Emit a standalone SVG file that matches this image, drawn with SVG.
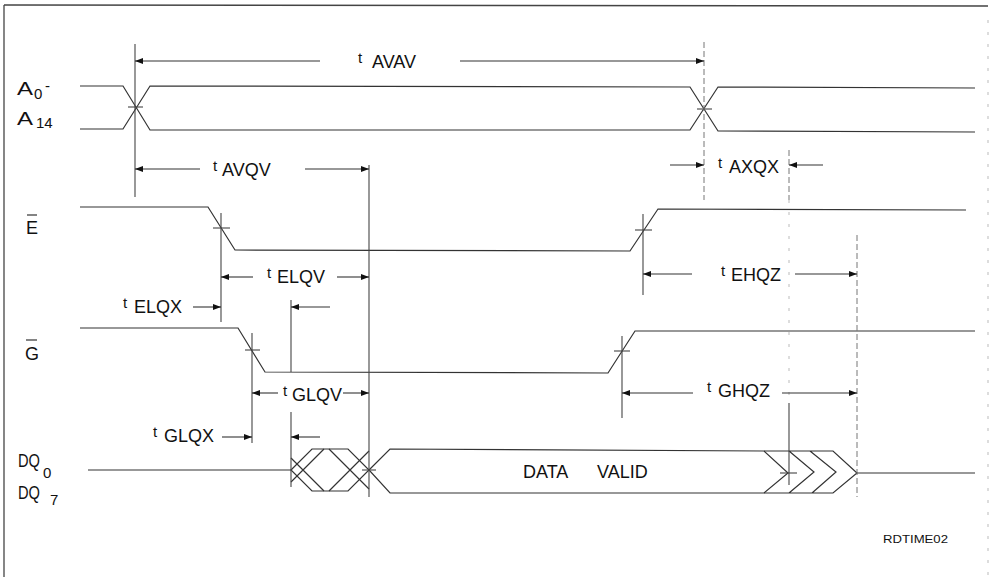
<svg xmlns="http://www.w3.org/2000/svg" width="993" height="577" viewBox="0 0 993 577">
<style>
.sig{fill:none;stroke:#333;stroke-width:1.2}
.ref{fill:none;stroke:#444;stroke-width:1.1}
.faint{fill:none;stroke:#777;stroke-width:1;stroke-dasharray:6 3}
.ghost{fill:none;stroke:#bbb;stroke-width:1;stroke-dasharray:3 9}
.dim{fill:none;stroke:#333;stroke-width:1.1;marker-end:url(#ah)}
.frame{fill:none;stroke:#444;stroke-width:1.3}
text{font-family:"Liberation Sans",Arial,sans-serif;fill:#111}
.lbl{font-size:18px}
.sub{font-size:15px}
.t{font-size:15px}
.tm{font-size:18px}
</style>
<defs>
<marker id="ah" markerUnits="userSpaceOnUse" markerWidth="9" markerHeight="7" refX="8" refY="3" orient="auto">
<path d="M0,0 L8,3 L0,6 z" fill="#111"/>
</marker>
</defs>
<g id="frame">
<line class="frame" x1="4" y1="5" x2="988" y2="6"/>
<line class="frame" x1="4" y1="5" x2="4" y2="577"/>
<line class="ghost" x1="988" y1="20" x2="988" y2="577"/>
</g>
<g id="signal-A">
<text class="lbl" x="17" y="95" textLength="16" lengthAdjust="spacingAndGlyphs">A</text><text class="sub" x="34" y="99">0</text><text class="sub" x="45" y="91">-</text>
<text class="lbl" x="17" y="125" textLength="16" lengthAdjust="spacingAndGlyphs">A</text><text class="sub" x="36" y="128">14</text>
<path class="sig" d="M80,86 L123,86 L150,130 L690,130 L718,87 L975,88"/>
<path class="sig" d="M80,129 L123,129 L150,86 L690,87 L718,131 L975,132"/>
<line class="ref" x1="128" y1="107" x2="143" y2="107"/>
<line class="ref" x1="697" y1="109" x2="712" y2="109"/>
</g>
<g id="signal-E">
<text class="lbl" x="26" y="234">E</text><line class="sig" x1="27" y1="215" x2="37" y2="215"/>
<path class="sig" d="M80,207 L208,207 L235,250 L630,251 L658,209 L966,210"/>
<line class="ref" x1="213" y1="228" x2="230" y2="228"/>
<line class="ref" x1="635" y1="230" x2="652" y2="230"/>
</g>
<g id="signal-G">
<text class="lbl" x="25" y="360">G</text><line class="sig" x1="26" y1="340" x2="37" y2="340"/>
<path class="sig" d="M80,328 L238,328 L265,372 L608,373 L635,331 L975,331"/>
<line class="ref" x1="245" y1="350" x2="260" y2="350"/>
<line class="ref" x1="614" y1="351" x2="630" y2="351"/>
</g>
<g id="signal-DQ">
<text class="lbl" x="18" y="467" textLength="22" lengthAdjust="spacingAndGlyphs">DQ</text><text class="sub" x="43" y="478">0</text>
<text class="lbl" x="18" y="499" textLength="22" lengthAdjust="spacingAndGlyphs">DQ</text><text class="sub" x="50" y="505">7</text>
<path class="sig" d="M88,470 L291,470"/>
<path class="sig" d="M291,470 L312,449 L348,449 L369,470 L348,491 L312,491 Z"/>
<path class="sig" d="M291,482 L324,449 M291,458 L324,491 M329,449 L369,489 M329,491 L369,451"/>
<path class="sig" d="M369,470 L390,449 L764,451 L788,473 L764,493 L390,493 Z"/>
<path class="sig" d="M764,451 L833,451 L857,473 L833,493 L764,493 M789,451 L814,472 L789,493 M810,451 L836,472 L812,493"/>
<line class="sig" x1="857" y1="473" x2="975" y2="473"/>
<line class="ref" x1="362" y1="470" x2="376" y2="470"/>
<line class="ref" x1="780" y1="473" x2="797" y2="473"/>
<text class="tm" x="523" y="478">DATA</text><text class="tm" x="597" y="478">VALID</text>
</g>
<g id="ref-lines">
<line class="ref" x1="135" y1="44" x2="135" y2="197"/>
<line class="faint" x1="704" y1="42" x2="704" y2="200"/>
<line class="ref" x1="369" y1="165" x2="369" y2="497"/>
<line class="ref" x1="221" y1="213" x2="221" y2="322"/>
<line class="ref" x1="643" y1="214" x2="643" y2="295"/>
<line class="ref" x1="252" y1="333" x2="252" y2="443"/>
<line class="ref" x1="291" y1="300" x2="291" y2="372"/>
<line class="ref" x1="291" y1="412" x2="291" y2="487"/>
<line class="ref" x1="622" y1="336" x2="622" y2="418"/>
<line class="faint" x1="789" y1="150" x2="789" y2="200"/>
<line class="ghost" x1="789" y1="200" x2="789" y2="403"/>
<line class="ref" x1="789" y1="403" x2="789" y2="485" stroke="#888"/>
<line class="faint" x1="857" y1="235" x2="857" y2="497"/>
</g>
<g id="connectors">
<line class="dim" x1="320" y1="61" x2="135" y2="61"/>
<line class="dim" x1="460" y1="61" x2="704" y2="61"/>
<line class="dim" x1="200" y1="169" x2="135" y2="169"/>
<line class="dim" x1="305" y1="169" x2="369" y2="169"/>
<line class="dim" x1="670" y1="165" x2="704" y2="165"/>
<line class="dim" x1="823" y1="165" x2="789" y2="165"/>
<line class="dim" x1="253" y1="277" x2="221" y2="277"/>
<line class="dim" x1="337" y1="277" x2="369" y2="277"/>
<line class="dim" x1="193" y1="307" x2="221" y2="307"/>
<line class="dim" x1="330" y1="307" x2="291" y2="307"/>
<line class="dim" x1="692" y1="274" x2="643" y2="274"/>
<line class="dim" x1="795" y1="274" x2="857" y2="274"/>
<line class="dim" x1="278" y1="393" x2="252" y2="393"/>
<line class="dim" x1="343" y1="393" x2="369" y2="393"/>
<line class="dim" x1="693" y1="393" x2="622" y2="393"/>
<line class="dim" x1="782" y1="393" x2="857" y2="393"/>
<line class="dim" x1="222" y1="437" x2="252" y2="437"/>
<line class="dim" x1="320" y1="437" x2="291" y2="437"/>
</g>
<g id="labels">
<text class="t" x="358" y="63">t</text><text class="tm" x="372" y="68">AVAV</text>
<text class="t" x="213" y="171">t</text><text class="tm" x="222" y="176">AVQV</text>
<text class="t" x="718" y="168">t</text><text class="tm" x="729" y="173">AXQX</text>
<text class="t" x="267" y="278">t</text><text class="tm" x="277" y="283">ELQV</text>
<text class="t" x="123" y="308">t</text><text class="tm" x="134" y="313">ELQX</text>
<text class="t" x="721" y="276">t</text><text class="tm" x="731" y="281">EHQZ</text>
<text class="t" x="283" y="396">t</text><text class="tm" x="292" y="401">GLQV</text>
<text class="t" x="707" y="392">t</text><text class="tm" x="718" y="397">GHQZ</text>
<text class="t" x="153" y="437">t</text><text class="tm" x="164" y="442">GLQX</text>
<text x="883" y="543" style="font-size:11px" textLength="65" lengthAdjust="spacingAndGlyphs">RDTIME02</text>
</g>
</svg>
